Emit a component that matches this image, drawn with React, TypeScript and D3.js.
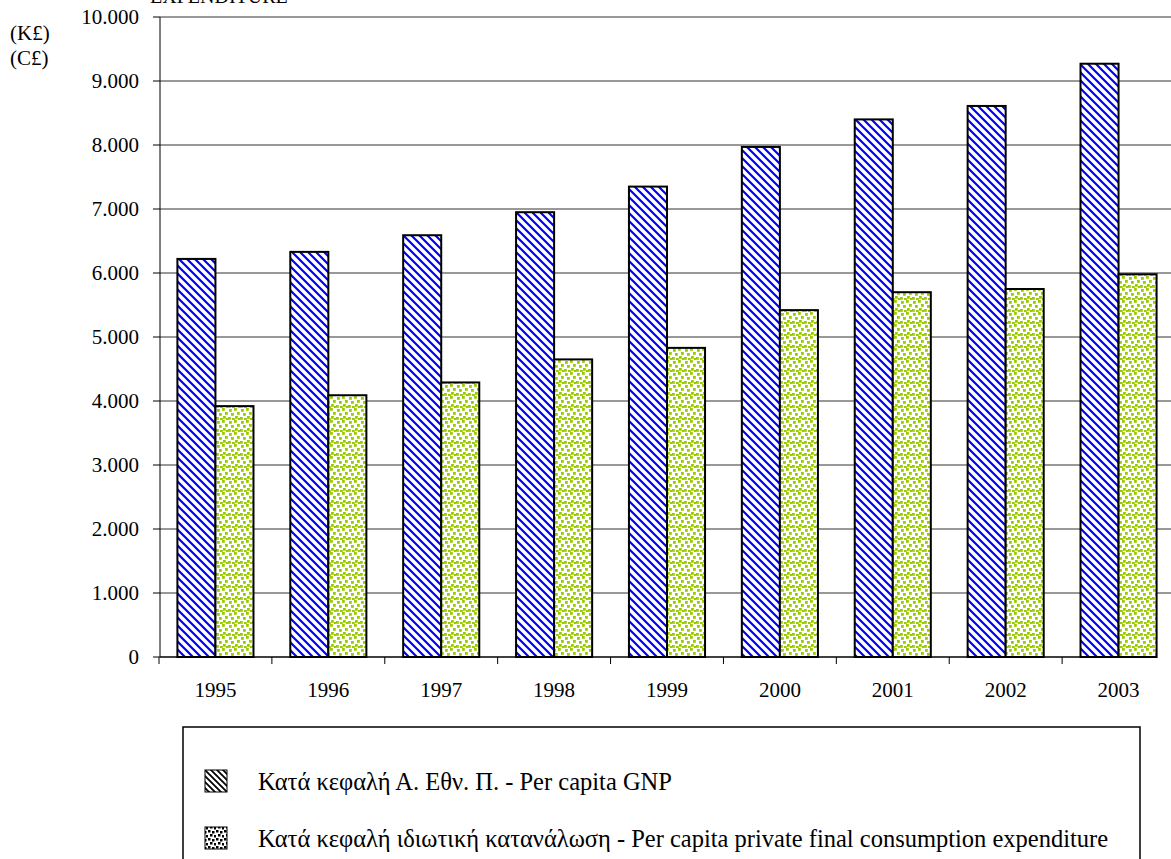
import React from "react";
import * as d3 from "d3";

const years = ["1995", "1996", "1997", "1998", "1999", "2000", "2001", "2002", "2003"];
const gnp = [6220, 6330, 6590, 6950, 7350, 7970, 8400, 8610, 9270];
const consumption = [3920, 4090, 4290, 4650, 4830, 5420, 5700, 5750, 5980];
const yTicks = [0, 1000, 2000, 3000, 4000, 5000, 6000, 7000, 8000, 9000, 10000];
const seriesKeys = ["gnp", "cons"];
const legendLabels = [
  "Κατά κεφαλή Α. Εθν. Π. - Per capita GNP",
  "Κατά κεφαλή ιδιωτική κατανάλωση - Per capita private final consumption expenditure",
];

const W = 1171;
const H = 859;
const FONT = "'Liberation Serif', 'Times New Roman', serif";

const fmt = (v: number) => (v === 0 ? "0" : d3.format(",")(v).replace(/,/g, "."));

// dot positions for the consumption pattern (within 12x12 tile)
const dots = [
  [1, 1], [6, 0], [9, 4], [3, 5], [7, 8], [0, 9], [10, 10], [4, 10],
];

export default function App() {
  const left = 160;
  const right = 1175;
  const top = 17;
  const bottom = 657;

  const x = d3.scaleBand<string>().domain(years).range([159, right]).paddingInner(0).paddingOuter(0);
  const bw = x.bandwidth();
  const xi = d3.scaleBand<string>().domain(seriesKeys).range([bw * 0.163, bw * 0.837]);
  const y = d3.scaleLinear().domain([0, 10000]).range([bottom, top]);

  const series = [gnp, consumption];
  const fills = ["url(#stripeBlue)", "url(#dotGreen)"];
  const legendFills = ["url(#stripeBlack)", "url(#dotBlack)"];

  return (
    <svg width={W} height={H} style={{ position: "absolute", left: 0, top: 0, display: "block" }} fontFamily={FONT}>
      <defs>
        <pattern id="stripeBlue" patternUnits="userSpaceOnUse" width="8" height="8">
          <rect width="8" height="8" fill="#ffffff" />
          <path d="M-1,-1 L9,9 M-3,5 L3,11 M5,-3 L11,3" stroke="#0000ff" strokeWidth="2.2" />
        </pattern>
        <pattern id="stripeBlack" patternUnits="userSpaceOnUse" width="6" height="6">
          <rect width="6" height="6" fill="#ffffff" />
          <path d="M-1,-1 L7,7 M-3,3 L3,9 M3,-3 L9,3" stroke="#000000" strokeWidth="1.8" />
        </pattern>
        <pattern id="dotGreen" patternUnits="userSpaceOnUse" width="12" height="12">
          <rect width="12" height="12" fill="#ffffff" />
          {dots.map(([dx, dy], i) => (
            <rect key={i} x={dx} y={dy} width="2.8" height="2.8" fill="#99cc00" />
          ))}
        </pattern>
        <pattern id="dotBlack" patternUnits="userSpaceOnUse" width="8" height="8">
          <rect width="8" height="8" fill="#ffffff" />
          <rect x="0" y="0" width="2.5" height="2.5" fill="#000" />
          <rect x="4" y="1" width="2.5" height="2.5" fill="#000" />
          <rect x="2" y="4" width="2.5" height="2.5" fill="#000" />
          <rect x="6" y="5" width="2.5" height="2.5" fill="#000" />
        </pattern>
      </defs>
      <rect width={W} height={H} fill="#ffffff" />

      {/* title (cut off at the top in the reference) */}
      <text x={150} y={3} fontSize={20} fill="#000">EXPENDITURE</text>

      {/* gridlines */}
      {yTicks.filter((t) => t > 0).map((t) => (
        <line key={t} x1={left} x2={right} y1={y(t)} y2={y(t)} stroke="#333" strokeWidth={1} />
      ))}

      {/* bars */}
      {series.map((vals, si) =>
        years.map((yr, i) => (
          <rect
            key={si + "-" + yr}
            x={(x(yr) as number) + (xi(seriesKeys[si]) as number)}
            y={y(vals[i])}
            width={xi.bandwidth()}
            height={bottom - y(vals[i])}
            fill={fills[si]}
            stroke="#000"
            strokeWidth={2}
          />
        ))
      )}

      {/* axes */}
      <line x1={left} x2={left} y1={top} y2={bottom} stroke="#000" strokeWidth={1} />
      <line x1={left} x2={1157} y1={bottom} y2={bottom} stroke="#000" strokeWidth={1.5} />
      {yTicks.map((t) => (
        <g key={t}>
          <line x1={left - 7} x2={left} y1={y(t)} y2={y(t)} stroke="#000" />
          <text x={139} y={y(t)} dy="0.35em" textAnchor="end" fontSize={21} fill="#000">
            {fmt(t)}
          </text>
        </g>
      ))}
      {years.map((yr) => (
        <g key={yr}>
          <line x1={x(yr) as number} x2={x(yr) as number} y1={bottom} y2={bottom + 7} stroke="#000" />
          <text x={(x(yr) as number) + bw / 2} y={bottom + 40} textAnchor="middle" fontSize={21} fill="#000">
            {yr}
          </text>
        </g>
      ))}

      {/* unit labels */}
      <text x={10} y={40} fontSize={21} fill="#000">(K£)</text>
      <text x={10} y={65} fontSize={21} fill="#000">(C£)</text>

      {/* legend */}
      <rect x={183} y={727} width={957} height={160} fill="none" stroke="#000" strokeWidth={1.5} />
      {legendLabels.map((lab, i) => (
        <g key={i} transform={`translate(0, ${781 + i * 57})`}>
          <rect x={205} y={-11} width={22} height={22} fill={legendFills[i]} stroke="#000" strokeWidth={1} />
          <text x={258} y={0} dy="0.35em" fontSize={24.5} fill="#000">{lab}</text>
        </g>
      ))}
    </svg>
  );
}
